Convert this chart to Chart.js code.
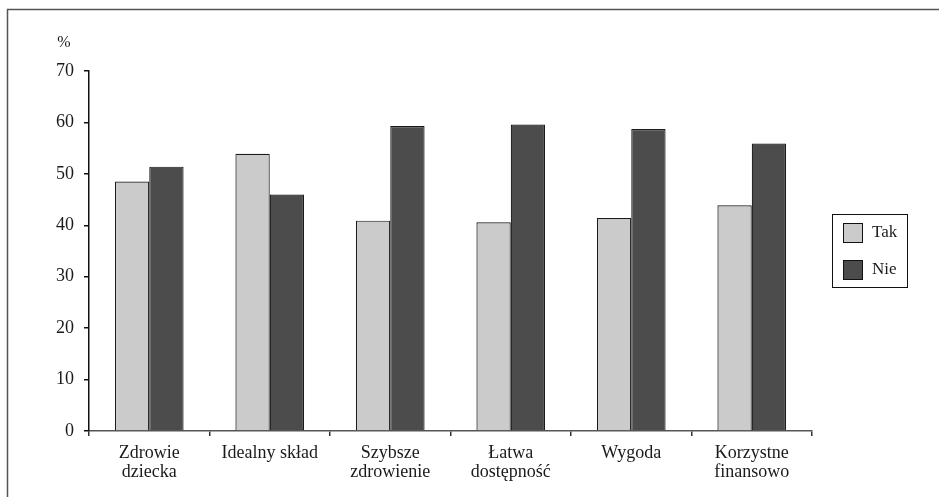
<!DOCTYPE html>
<html lang="pl">
<head>
<meta charset="UTF-8">
<title>Wykres</title>
<script src="https://cdn.jsdelivr.net/npm/chart.js"></script>
<style>
  html, body { margin: 0; padding: 0; background: #fff; }
  #box { position: relative; width: 939px; height: 497px; }
</style>
</head>
<body>
<div id="box"><canvas id="wykres"></canvas></div>
<script>
// dane
const kategorie = [
  ['Zdrowie', 'dziecka'],
  'Idealny skład',
  ['Szybsze', 'zdrowienie'],
  ['Łatwa', 'dostępność'],
  'Wygoda',
  ['Korzystne', 'finansowo']
];
const tak = [48.5, 53.9, 40.9, 40.6, 41.4, 43.9];
const nie = [51.4, 46.0, 59.3, 59.6, 58.7, 55.9];
const podzialkiY = [0, 10, 20, 30, 40, 50, 60, 70];

const czcionka = 'Liberation Serif';
const kolorTekstu = '#1a1a1a';

// ramka, znak % i legenda w ramce
const dodatki = {
  id: 'dodatki',
  afterDraw(chart) {
    const ctx = chart.ctx;
    const area = chart.chartArea;
    ctx.save();
    // ramka (tylko gora i lewa strona widoczne)
    ctx.strokeStyle = '#555';
    ctx.lineWidth = 1.5;
    ctx.beginPath();
    ctx.moveTo(7.5, 497);
    ctx.lineTo(7.5, 9.5);
    ctx.lineTo(939, 9.5);
    ctx.stroke();

    // znak %
    ctx.fillStyle = kolorTekstu;
    ctx.font = '16px "' + czcionka + '"';
    ctx.textAlign = 'center';
    ctx.textBaseline = 'middle';
    ctx.fillText('%', area.left - 25, area.top - 28);

    // legenda
    ctx.font = '17px "' + czcionka + '"';
    const lx = area.right + 20, ly = area.top + 143, lw = 75, lh = 73;
    ctx.strokeStyle = '#111';
    ctx.lineWidth = 1;
    ctx.strokeRect(lx + 0.5, ly + 0.5, lw, lh);
    chart.data.datasets.forEach((ds, i) => {
      const y = ly + 9 + i * 37;
      ctx.fillStyle = ds.backgroundColor;
      ctx.fillRect(lx + 11, y, 19, 19);
      ctx.strokeStyle = '#111';
      ctx.strokeRect(lx + 11.5, y + 0.5, 19, 19);
      ctx.fillStyle = kolorTekstu;
      ctx.textAlign = 'left';
      ctx.fillText(ds.label, lx + 40, y + 10);
    });
    ctx.restore();
  }
};

new Chart(document.getElementById('wykres'), {
  type: 'bar',
  data: {
    labels: kategorie,
    datasets: [
      { label: 'Tak', data: tak, backgroundColor: '#cbcbcb', borderColor: '#1a1a1a', borderWidth: 1.2 },
      { label: 'Nie', data: nie, backgroundColor: '#4c4c4c', borderColor: '#1a1a1a', borderWidth: 1.2 }
    ]
  },
  options: {
    responsive: true,
    maintainAspectRatio: false,
    animation: false,
    layout: { padding: { left: 0, right: 127, top: 71, bottom: 0 } },
    categoryPercentage: 0.57,
    barPercentage: 1.0,
    plugins: {
      legend: { display: false },
      tooltip: { enabled: false }
    },
    scales: {
      x: {
        afterFit(scale) { scale.height = 66; },
        grid: {
          offset: true,
          drawOnChartArea: false,
          drawTicks: true,
          tickLength: 5,
          color: '#333',
          lineWidth: 1.5
        },
        border: { color: '#555', width: 1.5 },
        ticks: {
          color: kolorTekstu,
          font: { family: czcionka, size: 18, lineHeight: 1.1 },
          padding: 7,
          maxRotation: 0,
          autoSkip: false
        }
      },
      y: {
        min: 0,
        max: 70,
        afterFit(scale) { scale.width = 89; },
        afterBuildTicks(axis) {
          axis.ticks = podzialkiY.map(v => ({ value: v }));
        },
        grid: {
          drawOnChartArea: false,
          drawTicks: true,
          tickLength: 5,
          color: '#111',
          lineWidth: 1.5
        },
        border: { color: '#111', width: 1.5 },
        ticks: {
          color: kolorTekstu,
          font: { family: czcionka, size: 18 },
          padding: 10
        }
      }
    }
  },
  plugins: [dodatki]
});
</script>
</body>
</html>
